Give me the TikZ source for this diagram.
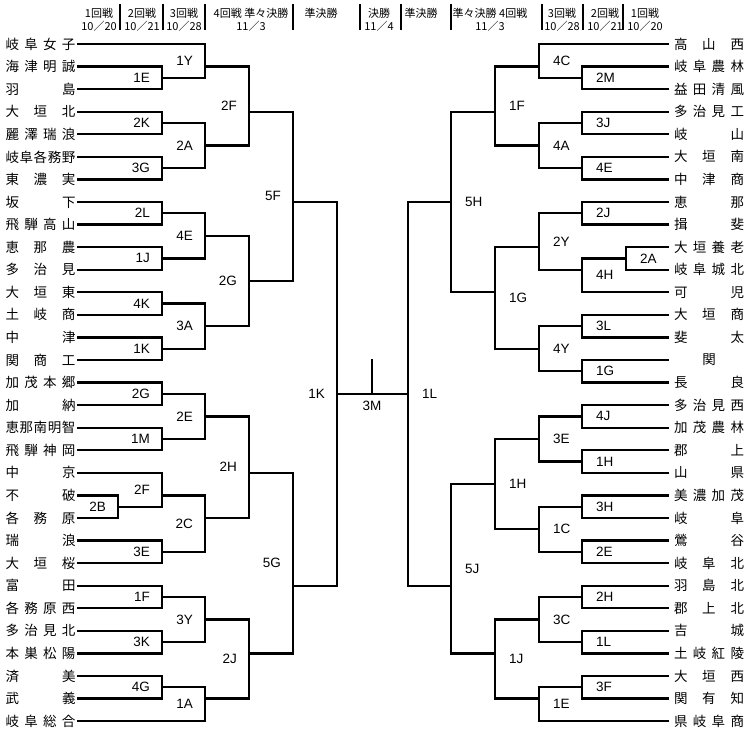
\documentclass[tikz,border=0pt]{standalone}
\usepackage{fontspec}
\setmainfont{Liberation Sans}
\newfontfamily\jpfont{Noto Sans CJK JP}
\usetikzlibrary{calc}

% spread the characters of a school name over the name column
\def\spreadnext#1#2{#1\ifx#2\relax\else\hfill\expandafter\spreadnext\expandafter#2\fi}
\newcommand{\schoolname}[1]{\makebox[70pt][s]{\hfil\expandafter\spreadnext#1\relax\hfil}}

% match: name, label, x of the vertical, row of the outgoing line, the two entries
\newcommand{\matchL}[6]{%
  \coordinate (#1) at (#3,#4);
  \draw[bracket] (#5) -| (#1);
  \draw[bracket] (#6) -| (#1);
  \path (#5 -| #1) -- node[tagL] {#2} (#6 -| #1);}
\newcommand{\matchR}[6]{%
  \coordinate (#1) at (#3,#4);
  \draw[bracket] (#5) -| (#1);
  \draw[bracket] (#6) -| (#1);
  \path (#5 -| #1) -- node[tagR] {#2} (#6 -| #1);}

\begin{document}
\begin{tikzpicture}[x=1pt,y=-1pt]

\tikzset{
team/.style={inner ysep=0pt,font=\jpfont\fontsize{13.5}{16}\selectfont},
teamL/.style={team,inner xsep=1.5pt},
teamR/.style={team,inner xsep=5pt},
bracket/.style={line width=2.3pt},
tagL/.style={anchor=east,xshift=-12pt,inner sep=0pt,font=\fontsize{13.5}{16}\selectfont},
tagR/.style={anchor=west,xshift=14pt,inner sep=0pt,font=\fontsize{13.5}{16}\selectfont},
roundhead/.style={inner sep=0pt,align=center,font=\jpfont\fontsize{11}{13}\selectfont},
headbar/.style={line width=1.6pt}
}

\useasboundingbox (0,0) rectangle (750,738);

% header
\node[roundhead] (hL1) at (99,19.5) {1回戦\\10／20};
\node[roundhead] (hL2) at (142,19.5) {2回戦\\10／21};
\node[roundhead] (hL3) at (184,19.5) {3回戦\\10／28};
\node[roundhead] (hL4) at (251,19.5) {4回戦 準々決勝\\11／3};
\node[roundhead] (hLsf) at (321,13) {準決勝};
\node[roundhead] (hF) at (379,19.5) {決勝\\11／4};
\node[roundhead] (hRsf) at (421,13) {準決勝};
\node[roundhead] (hR4) at (490,19.5) {準々決勝 4回戦\\11／3};
\node[roundhead] (hR3) at (562,19.5) {3回戦\\10／28};
\node[roundhead] (hR2) at (605,19.5) {2回戦\\10／21};
\node[roundhead] (hR1) at (645,19.5) {1回戦\\10／20};
\foreach \x in {120,163,205,293,360,401,451,542,583,623}
  \draw[headbar] (\x,4) -- (\x,30);

\begin{scope}[y=-22.57pt,yshift=-44pt]

\foreach \t [count=\i from 0] in {岐阜女子,海津明誠,羽島,大垣北,麗澤瑞浪,岐阜各務野,東濃実,坂下,
  飛騨高山,恵那農,多治見,大垣東,土岐商,中津,関商工,加茂本郷,加納,恵那南明智,飛騨神岡,中京,
  不破,各務原,瑞浪,大垣桜,富田,各務原西,多治見北,本巣松陽,済美,武義,岐阜総合}
  \node[teamL] (L\i) at (40.5,\i) {\schoolname{\t}};

\foreach \t [count=\i from 0] in {高山西,岐阜農林,益田清風,多治見工,岐山,大垣南,中津商,恵那,
  揖斐,大垣養老,岐阜城北,可児,大垣商,斐太,関,長良,多治見西,加茂農林,郡上,山県,美濃加茂,
  岐阜,鶯谷,岐阜北,羽島北,郡上北,吉城,土岐紅陵,大垣西,関有知,県岐阜商}
  \node[teamR] (R\i) at (709,\i) {\schoolname{\t}};

% left half
\matchL{l1E}{1E}{162}{1.5}{L1}{L2}
\matchL{l1Y}{1Y}{205}{1}{L0}{l1E}
\matchL{l2K}{2K}{162}{3.5}{L3}{L4}
\matchL{l3G}{3G}{162}{5.5}{L5}{L6}
\matchL{l2A}{2A}{205}{4.5}{l2K}{l3G}
\matchL{l2F}{2F}{249}{3}{l1Y}{l2A}
\matchL{l2L}{2L}{162}{7.5}{L7}{L8}
\matchL{l1J}{1J}{162}{9.5}{L9}{L10}
\matchL{l4E}{4E}{205}{8.5}{l2L}{l1J}
\matchL{l4K}{4K}{162}{11.5}{L11}{L12}
\matchL{l1K}{1K}{162}{13.5}{L13}{L14}
\matchL{l3A}{3A}{205}{12.5}{l4K}{l1K}
\matchL{l2G}{2G}{249}{10.5}{l4E}{l3A}
\matchL{l5F}{5F}{293}{7}{l2F}{l2G}
\matchL{l2Gb}{2G}{162}{15.5}{L15}{L16}
\matchL{l1M}{1M}{162}{17.5}{L17}{L18}
\matchL{l2E}{2E}{205}{16.5}{l2Gb}{l1M}
\matchL{l2B}{2B}{118}{20.5}{L20}{L21}
\matchL{l2Fb}{2F}{162}{20}{L19}{l2B}
\matchL{l3E}{3E}{162}{22.5}{L22}{L23}
\matchL{l2C}{2C}{205}{21}{l2Fb}{l3E}
\matchL{l2H}{2H}{249}{19}{l2E}{l2C}
\matchL{l1F}{1F}{162}{24.5}{L24}{L25}
\matchL{l3K}{3K}{162}{26.5}{L26}{L27}
\matchL{l3Y}{3Y}{205}{25.5}{l1F}{l3K}
\matchL{l4G}{4G}{162}{28.5}{L28}{L29}
\matchL{l1A}{1A}{205}{29}{l4G}{L30}
\matchL{l2J}{2J}{249}{27}{l3Y}{l1A}
\matchL{l5G}{5G}{293}{24}{l2H}{l2J}
\matchL{l1Kb}{1K}{337}{15.5}{l5F}{l5G}

% right half
\matchR{r2M}{2M}{582}{1.5}{R1}{R2}
\matchR{r4C}{4C}{539}{1}{R0}{r2M}
\matchR{r3J}{3J}{582}{3.5}{R3}{R4}
\matchR{r4E}{4E}{582}{5.5}{R5}{R6}
\matchR{r4A}{4A}{539}{4.5}{r3J}{r4E}
\matchR{r1F}{1F}{495}{3}{r4C}{r4A}
\matchR{r2J}{2J}{582}{7.5}{R7}{R8}
\matchR{r2A}{2A}{626}{9.5}{R9}{R10}
\matchR{r4H}{4H}{582}{10}{r2A}{R11}
\matchR{r2Y}{2Y}{539}{9}{r2J}{r4H}
\matchR{r3L}{3L}{582}{12.5}{R12}{R13}
\matchR{r1Gb}{1G}{582}{14.5}{R14}{R15}
\matchR{r4Y}{4Y}{539}{13.5}{r3L}{r1Gb}
\matchR{r1G}{1G}{495}{11}{r2Y}{r4Y}
\matchR{r5H}{5H}{451}{7}{r1F}{r1G}
\matchR{r4J}{4J}{582}{16.5}{R16}{R17}
\matchR{r1Hb}{1H}{582}{18.5}{R18}{R19}
\matchR{r3E}{3E}{539}{17.5}{r4J}{r1Hb}
\matchR{r3H}{3H}{582}{20.5}{R20}{R21}
\matchR{r2E}{2E}{582}{22.5}{R22}{R23}
\matchR{r1C}{1C}{539}{21.5}{r3H}{r2E}
\matchR{r1H}{1H}{495}{19.5}{r3E}{r1C}
\matchR{r2H}{2H}{582}{24.5}{R24}{R25}
\matchR{r1Lb}{1L}{582}{26.5}{R26}{R27}
\matchR{r3C}{3C}{539}{25.5}{r2H}{r1Lb}
\matchR{r3F}{3F}{582}{28.5}{R28}{R29}
\matchR{r1E}{1E}{539}{29}{r3F}{R30}
\matchR{r1J}{1J}{495}{27}{r3C}{r1E}
\matchR{r5J}{5J}{451}{24}{r1H}{r1J}
\matchR{r1L}{1L}{408}{15.5}{r5H}{r5J}

% final
\coordinate (final) at (372,15.5);
\coordinate (finaltop) at (372,13.95);
\draw[bracket] (l1Kb) -- (r1L);
\draw[bracket] (final) -- (finaltop);
\node[inner sep=0pt,font=\fontsize{13.5}{16}\selectfont] (finallabel) at (372,16.05) {3M};

\end{scope}
\end{tikzpicture}
\end{document}
